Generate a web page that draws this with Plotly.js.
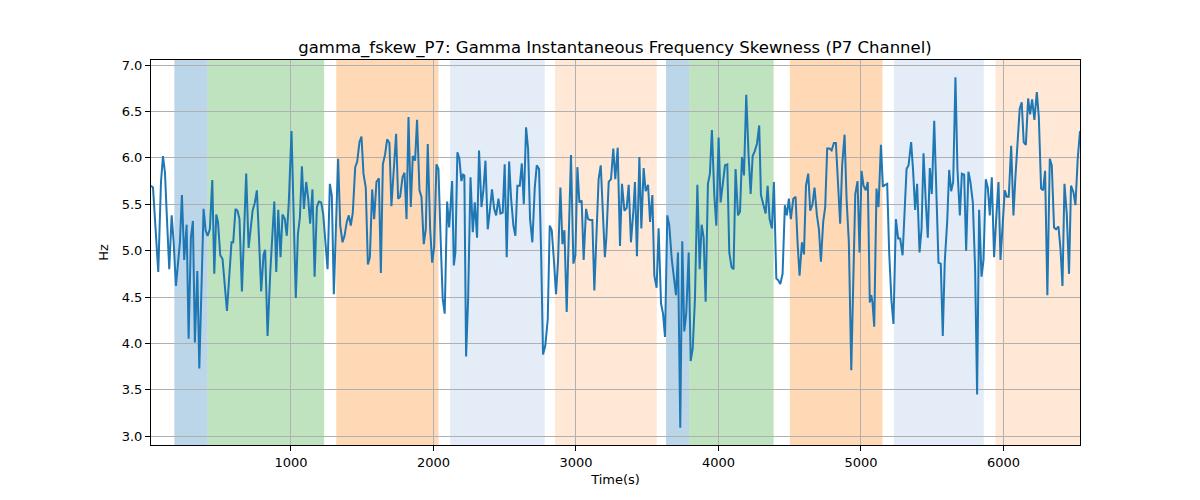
<!DOCTYPE html>
<html>
<head>
<meta charset="utf-8">
<script src="https://cdn.plot.ly/plotly-3.0.1.min.js"></script>
<style>
  body { margin: 0; background: #fff; }
  #myDiv { width: 1200px; height: 500px; }
</style>
</head>
<body>
<div id="myDiv"></div>
<script>
// time axis (s) and skewness (Hz)
var timeS = [
 18,32,69,88,102,116,128,146,163,177,193,221,235,251,268,282,298,312,326,343,357,373,387,401,415,431,448,462,476,488,
 504,520,551,583,595,611,625,639,656,686,703,717,731,747,761,775,791,808,819,836,855,883,897,911,927,941,957,971,985,1004,
 1018,1034,1049,1063,1077,1091,
 1107,1121,1135,1151,1166,1182,1196,1212,1226,1243,1257,1273,1287,1301,1317,1331,1346,1362,1376,1392,1406,1420,1434,1451,
 1465,1481,1495,1509,1525,1540,1554,1570,1584,1600,1617,1631,1645,1661,1675,1691,1705,1722,1738,1752,1766,1783,1797,1811,
 1825,1841,1855,1871,1885,1902,1916,1932,1946,1960,1977,1991,2005,2021,2035,2051,2065,2079,2096,2110,
 2131,2143,2154,2168,2182,2196,2208,2217,2229,2243,2260,2276,2290,2306,2320,2337,2351,2365,2381,2397,2411,2426,2440,2456,
 2470,2486,2500,2514,2531,2545,2561,2575,2589,2606,2620,2634,2650,2664,2678,2694,2711,2725,2741,2755,2769,2785,2802,2816,
 2830,2846,2860,2874,2891,2905,2919,2935,2951,2965,2982,2996,3010,3024,3040,3054,3071,3085,3099,3115,3129,3145,3159,3174,3188,
 3203,3213,3230,3246,3262,3276,3293,3309,3323,3340,3356,3370,3386,3403,3414,3428,3445,3459,3475,3489,3506,3520,3536,3550,
 3566,3580,3597,3611,3625,3641,3655,3672,3686,3702,3716,3732,3746,3760,3774,3791,3805,3819,3835,3852,3868,3882,3896,3910,
 3926,3940,3954,3971,3985,4001,4015,4031,4046,4062,4076,4092,4106,4120,4137,4151,4165,4179,4195,4211,4226,4240,4254,4270,
 4286,4298,4314,4331,4345,4359,4375,4389,4406,4420,4434,4450,4466,4480,4494,4508,4525,4541,4555,4569,4586,4600,4614,4630,
 4644,4660,4674,4691,4705,4719,4735,4749,4763,4780,4794,4810,4824,4840,4854,4868,4885,4899,4915,4932,4946,4960,4976,4990,
 5004,5018,5034,5048,5062,5072,5081,5093,5109,5123,5140,5154,5170,5184,5198,5214,5228,5245,5261,5275,5292,5306,5320,5334,
 5352,5366,5380,5394,5411,5425,5439,5455,5469,5483,5497,5514,5528,5544,5560,5574,5588,5605,5619,5633,5647,5663,5677,5694,
 5708,5724,5738,5754,5768,5785,5801,5815,5829,5846,5860,5876,5890,5904,5918,5934,5948,5965,5979,5995,6009,6023,6037,6054,
 6070,6084,6098,6114,6128,6142,6157,6173,6187,6201,6217,6234,6248,6264,6278,6292,6308,6325,6339,6355,6369,6386,6400,6414,
 6428,6444,6460,6474,6491,6505,6521,6537
];
var skewHz = [
 5.70,5.68,4.77,5.74,6.02,5.84,5.41,4.80,5.38,5.09,4.62,5.09,5.60,4.90,5.28,4.05,5.14,5.32,4.01,4.78,3.73,4.59,5.45,5.22,5.16,5.23,5.76,4.75,5.39,5.31,
 4.95,4.91,4.35,5.09,5.09,5.45,5.43,5.34,4.56,5.83,5.03,5.23,5.43,5.52,5.65,5.16,4.56,4.96,5.01,4.08,4.77,5.53,4.77,5.44,4.93,5.39,5.34,5.16,5.52,6.29,
 5.45,4.49,5.18,5.36,5.91,5.45,
 5.74,5.56,5.29,5.66,4.72,5.47,5.53,5.52,5.40,5.02,4.80,5.72,5.59,4.53,5.29,5.99,5.27,5.09,5.16,5.31,5.38,5.27,5.41,5.90,
 5.96,6.17,6.23,5.83,5.68,4.85,4.93,5.66,5.34,5.74,5.78,4.76,5.93,6.04,6.20,6.16,5.48,5.95,6.26,5.56,5.58,5.79,5.84,5.34,
 6.44,5.47,6.02,5.97,6.41,5.65,5.58,5.07,5.23,6.15,5.23,4.87,5.04,5.93,5.88,5.09,4.48,4.32,5.53,5.25,
 5.75,4.84,4.98,6.06,5.99,5.75,5.82,5.81,3.86,4.46,5.79,5.20,5.52,5.14,6.08,5.47,5.66,5.97,5.23,5.45,5.66,5.45,5.38,5.56,
 5.40,5.41,5.93,4.93,5.96,5.56,5.27,5.16,5.70,5.70,5.94,5.50,6.33,6.10,5.34,5.09,5.68,5.92,5.88,5.02,3.88,3.98,4.26,5.27,
 5.22,4.88,4.53,4.88,5.68,5.07,5.22,4.34,5.22,6.03,4.86,4.95,5.90,5.52,5.54,4.90,5.45,5.34,5.33,5.33,4.57,5.23,5.77,5.92,5.34,
 4.93,5.13,5.74,5.77,6.10,5.77,6.11,5.05,5.72,5.43,5.46,5.71,5.09,5.43,5.74,4.94,6.01,5.24,5.89,5.64,5.71,5.31,5.60,4.73,
 4.60,5.24,4.43,4.32,4.07,5.38,5.27,4.91,4.71,4.52,4.98,3.09,5.10,4.13,4.32,4.98,3.81,3.94,4.48,5.71,4.80,5.28,5.14,4.45,
 5.72,5.83,6.30,5.59,5.27,6.22,5.52,5.72,5.92,5.93,4.98,4.82,4.80,5.88,5.38,5.42,6.01,5.81,6.68,6.04,5.61,6.02,6.07,6.15,
 6.35,5.60,5.50,5.40,5.70,5.34,5.24,5.74,4.70,4.68,4.64,4.75,5.49,5.38,5.56,5.34,5.56,5.58,5.09,4.73,5.09,4.96,5.70,5.83,
 5.43,5.50,5.68,5.38,5.23,4.88,5.31,5.47,6.10,6.10,6.08,6.16,6.16,5.74,5.29,5.92,6.25,5.56,5.09,3.71,4.77,5.61,5.75,4.98,
 5.86,5.70,5.65,5.74,4.44,4.52,4.44,4.18,5.67,5.47,6.14,5.69,5.71,5.72,4.98,4.46,4.21,5.34,5.13,5.13,4.95,5.52,5.88,5.92,
 6.17,5.86,5.44,5.72,4.98,5.23,6.05,5.52,5.14,5.89,5.61,6.40,5.78,4.87,4.86,4.08,4.88,5.31,5.87,5.64,5.74,6.87,5.88,5.38,
 5.83,5.82,5.00,5.85,5.74,5.52,4.80,3.45,5.44,4.72,4.90,5.77,5.68,5.38,5.79,4.93,5.32,5.74,4.90,5.38,5.65,5.58,5.58,6.13,
 5.38,5.80,6.20,6.53,6.60,6.17,6.14,6.64,6.47,6.63,6.41,6.71,6.44,5.67,5.65,5.86,4.52,5.99,5.92,5.25,5.23,5.26,5.02,4.62,
 5.72,5.40,4.75,5.70,5.63,5.49,5.99,6.29
];

// shaded intervals
var bandStart = [182, 415, 1318, 2117, 2853, 3632, 3795, 4501, 5231, 5944];
var bandEnd   = [415, 1233, 2035, 2781, 3567, 3795, 4387, 5151, 5862, 6560];
var bandKind  = ['blue','green','orange','paleblue','paleorange','blue','green','orange','paleblue','paleorange'];

var fills = {
  blue: 'rgba(31,119,180,0.3)',
  green: 'rgba(44,160,44,0.3)',
  orange: 'rgba(255,127,14,0.3)',
  paleblue: 'rgba(70,130,200,0.15)',
  paleorange: 'rgba(255,127,14,0.17)'
};

var shapes = [];
for (var i = 0; i < bandStart.length; i++) {
  shapes.push({
    type: 'rect', xref: 'x', yref: 'paper',
    x0: bandStart[i], x1: bandEnd[i], y0: 0, y1: 1,
    fillcolor: fills[bandKind[i]], line: {width: 0}, layer: 'below'
  });
}

var data = [{
  type: 'scatter', mode: 'lines',
  x: timeS, y: skewHz,
  line: {color: '#1f77b4', width: 2},
  hoverinfo: 'x+y'
}];

var layout = {
  width: 1200, height: 500,
  margin: {l: 151, r: 120, t: 60, b: 55},
  paper_bgcolor: '#fff', plot_bgcolor: '#fff',
  font: {family: 'DejaVu Sans, sans-serif', size: 13, color: '#000'},
  title: {
    text: 'gamma_fskew_P7: Gamma Instantaneous Frequency Skewness (P7 Channel)',
    font: {size: 16.5, color: '#000'},
    x: 0.5125, xanchor: 'center', y: 0.905, yanchor: 'middle'
  },
  showlegend: false,
  shapes: shapes,
  xaxis: {
    range: [18, 6537],
    tickvals: [1000, 2000, 3000, 4000, 5000, 6000],
    ticktext: ['1000', '2000', '3000', '4000', '5000', '6000'],
    ticks: 'outside', ticklen: 5, tickcolor: '#000', tickwidth: 1,
    showgrid: true, gridcolor: '#b0b0b0', gridwidth: 1,
    showline: true, linecolor: '#000', linewidth: 1, mirror: true,
    zeroline: false,
    title: {text: 'Time(s)', font: {size: 13}, standoff: 6}
  },
  yaxis: {
    range: [2.905, 7.055],
    tickvals: [3.0, 3.5, 4.0, 4.5, 5.0, 5.5, 6.0, 6.5, 7.0],
    ticktext: ['3.0', '3.5', '4.0', '4.5', '5.0', '5.5', '6.0', '6.5', '7.0'],
    ticks: 'outside', ticklen: 5, tickcolor: '#000', tickwidth: 1,
    showgrid: true, gridcolor: '#b0b0b0', gridwidth: 1,
    showline: true, linecolor: '#000', linewidth: 1, mirror: true,
    zeroline: false,
    title: {text: 'Hz', font: {size: 13}, standoff: 10}
  }
};

Plotly.newPlot('myDiv', data, layout, {displayModeBar: false, staticPlot: true});
</script>
</body>
</html>
